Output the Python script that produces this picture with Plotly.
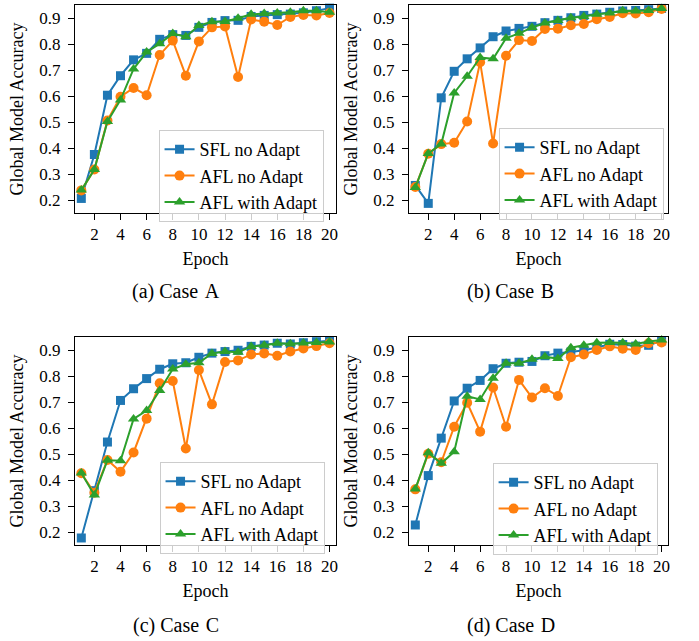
import plotly.graph_objects as go

epochs = list(range(1, 21))
x_ticks = [2, 4, 6, 8, 10, 12, 14, 16, 18, 20]
y_ticks = [0.2, 0.3, 0.4, 0.5, 0.6, 0.7, 0.8, 0.9]
y_tick_labels = ["0.2", "0.3", "0.4", "0.5", "0.6", "0.7", "0.8", "0.9"]
series_names = ["SFL no Adapt", "AFL no Adapt", "AFL with Adapt"]
captions = ["(a) Case \u200aA", "(b) Case \u200aB", "(c) Case \u200aC", "(d) Case \u200aD"]

# Case A
a_sfl = [0.206, 0.375, 0.603, 0.678, 0.739, 0.764, 0.818, 0.836, 0.833, 0.864,
         0.883, 0.890, 0.891, 0.906, 0.910, 0.913, 0.915, 0.920, 0.928, 0.938]
a_afl = [0.237, 0.317, 0.506, 0.597, 0.631, 0.603, 0.758, 0.813, 0.678, 0.810,
         0.864, 0.867, 0.673, 0.894, 0.886, 0.873, 0.904, 0.912, 0.910, 0.919]
a_ada = [0.238, 0.317, 0.502, 0.585, 0.704, 0.769, 0.801, 0.840, 0.828, 0.871,
         0.886, 0.887, 0.899, 0.914, 0.917, 0.919, 0.922, 0.928, 0.928, 0.922]
# Case B
b_sfl = [0.256, 0.187, 0.593, 0.695, 0.743, 0.785, 0.828, 0.850, 0.860, 0.868,
         0.882, 0.891, 0.901, 0.910, 0.915, 0.922, 0.927, 0.929, 0.932, 0.937]
b_afl = [0.250, 0.378, 0.415, 0.420, 0.502, 0.730, 0.417, 0.755, 0.815, 0.812,
         0.858, 0.859, 0.872, 0.877, 0.895, 0.904, 0.918, 0.917, 0.922, 0.935]
b_ada = [0.248, 0.379, 0.415, 0.612, 0.676, 0.748, 0.743, 0.822, 0.841, 0.863,
         0.881, 0.890, 0.901, 0.906, 0.914, 0.919, 0.928, 0.927, 0.929, 0.937]
# Case C
c_sfl = [0.177, 0.359, 0.546, 0.706, 0.751, 0.790, 0.826, 0.847, 0.851, 0.872,
         0.888, 0.894, 0.899, 0.914, 0.919, 0.926, 0.923, 0.928, 0.932, 0.936]
c_afl = [0.426, 0.351, 0.477, 0.432, 0.506, 0.636, 0.772, 0.781, 0.521, 0.823,
         0.691, 0.854, 0.860, 0.883, 0.887, 0.878, 0.894, 0.906, 0.915, 0.926]
c_ada = [0.427, 0.342, 0.476, 0.474, 0.635, 0.667, 0.744, 0.827, 0.845, 0.851,
         0.887, 0.894, 0.891, 0.913, 0.918, 0.926, 0.924, 0.927, 0.929, 0.931]
# Case D
d_sfl = [0.227, 0.417, 0.561, 0.704, 0.753, 0.783, 0.828, 0.849, 0.853, 0.856,
         0.878, 0.888, 0.892, 0.899, 0.910, 0.922, 0.921, 0.915, 0.918, 0.935]
d_afl = [0.364, 0.501, 0.468, 0.605, 0.697, 0.586, 0.756, 0.605, 0.785, 0.717,
         0.753, 0.723, 0.872, 0.883, 0.900, 0.914, 0.905, 0.900, 0.926, 0.929]
d_ada = [0.365, 0.505, 0.464, 0.509, 0.722, 0.710, 0.791, 0.849, 0.849, 0.864,
         0.874, 0.867, 0.909, 0.918, 0.928, 0.929, 0.928, 0.923, 0.933, 0.938]

cases = [
    [a_sfl, a_afl, a_ada],
    [b_sfl, b_afl, b_ada],
    [c_sfl, c_afl, c_ada],
    [d_sfl, d_afl, d_ada],
]

colors = ["#1f77b4", "#ff7f0e", "#2ca02c"]
symbols = ["square", "circle", "triangle-up"]
msizes = [9, 10, 10]

W, H = 699, 641
# panel boxes in pixels: (left, right, top, bottom)
boxes = [(75, 337, 5, 213), (410, 670, 5, 213), (75, 337, 337, 545), (410, 670, 337, 545)]
legend_pos = [(159, 130), (500, 128), (160, 462), (494, 463)]
caption_pos = [(177, 291), (512, 291), (177, 625), (512, 625)]

serif = "Liberation Serif"
fig = go.Figure()
layout = dict(
    width=W, height=H,
    margin=dict(l=0, r=0, t=0, b=0),
    paper_bgcolor="white", plot_bgcolor="white",
    font=dict(family=serif, color="black", size=17),
    annotations=[],
)

for i, (case, box) in enumerate(zip(cases, boxes)):
    n = "" if i == 0 else str(i + 1)
    leg = "legend" if i == 0 else f"legend{i + 1}"
    for s, (vals, name) in enumerate(zip(case, series_names)):
        fig.add_trace(go.Scatter(
            x=epochs, y=vals, name=name, mode="lines+markers",
            line=dict(color=colors[s], width=2),
            marker=dict(symbol=symbols[s], color=colors[s], size=msizes[s]),
            xaxis="x" + n, yaxis="y" + n, legend=leg, cliponaxis=False,
        ))
    l, r, t, b = box
    layout["xaxis" + n] = dict(
        domain=[l / W, r / W], anchor="y" + n, range=[0.5, 20.5],
        tickvals=x_ticks, ticks="outside", ticklen=6, tickwidth=1, tickcolor="black",
        showline=True, linecolor="black", linewidth=1, mirror=True,
        showgrid=False, zeroline=False, tickfont=dict(family=serif, size=17),
        title=dict(text="Epoch", font=dict(family=serif, size=18), standoff=8),
    )
    layout["yaxis" + n] = dict(
        domain=[1 - b / H, 1 - t / H], anchor="x" + n, range=[0.15, 0.95],
        tickvals=y_ticks, ticktext=y_tick_labels, ticks="outside", ticklen=6,
        tickwidth=1, tickcolor="black", ticklabelstandoff=4,
        showline=True, linecolor="black", linewidth=1, mirror=True,
        showgrid=False, zeroline=False, tickfont=dict(family=serif, size=17),
        title=dict(text="Global Model Accuracy", font=dict(family=serif, size=18), standoff=10),
    )
    lx, ly = legend_pos[i]
    layout[leg] = dict(
        x=lx / W, y=1 - ly / H, xanchor="left", yanchor="top",
        bgcolor="rgba(255,255,255,0.8)", bordercolor="#cccccc", borderwidth=1,
        font=dict(family=serif, size=18), tracegroupgap=0,
    )
    cx, cy = caption_pos[i]
    layout["annotations"].append(dict(
        text=captions[i], x=cx / W, y=1 - cy / H, xref="paper", yref="paper",
        showarrow=False, font=dict(family=serif, size=20), xanchor="center", yanchor="middle",
    ))

fig.update_layout(**layout)
fig.write_html(
    "out.html",
    config={"displayModeBar": False},
    post_script="document.body.style.margin='0px';document.body.style.overflow='hidden';",
)
